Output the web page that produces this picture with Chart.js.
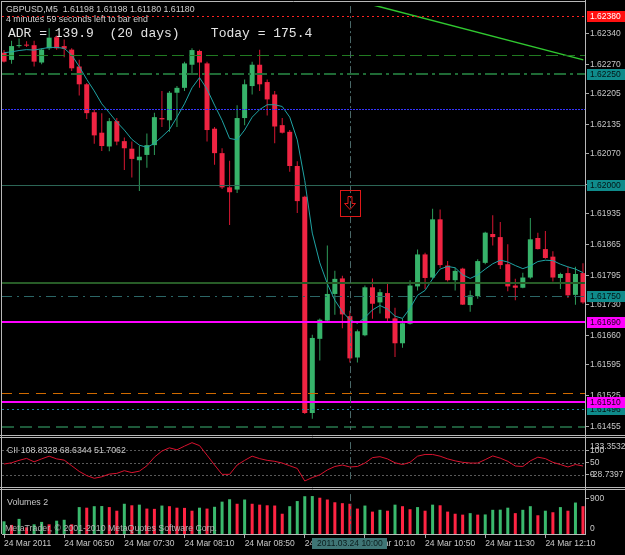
<!DOCTYPE html>
<html>
<head>
<meta charset="utf-8">
<script src="https://cdn.jsdelivr.net/npm/chart.js@4.4.0/dist/chart.umd.min.js"></script>
<style>
  html, body { margin: 0; padding: 0; background: #000; }
  #wrap { position: relative; width: 625px; height: 555px; background: #000; overflow: hidden; }
  #wrap canvas { position: absolute; left: 0; }
</style>
</head>
<body>
<div id="wrap">
  <canvas id="priceChart" width="625" height="436" style="top:0"></canvas>
  <canvas id="cciChart" width="625" height="52" style="top:436px"></canvas>
  <canvas id="volumeChart" width="625" height="67" style="top:488px"></canvas>
</div>
<script>
// GBPUSD M5, 78 bars from 06:10 to 12:35
const openPrices = [
  1.62297, 1.62281, 1.62312, 1.62315, 1.62314, 1.62275, 1.62307, 1.62332, 1.62312, 1.62304,
  1.62266, 1.62226, 1.62163, 1.62117, 1.62086, 1.62143, 1.62098, 1.62081, 1.62055, 1.62067,
  1.62089, 1.62150, 1.62145, 1.62207, 1.62218, 1.62270, 1.62301, 1.62273, 1.62126, 1.62071,
  1.61994, 1.61989, 1.62150, 1.62222, 1.62270, 1.62231, 1.62203, 1.62134, 1.62119, 1.62042,
  1.61973, 1.61486, 1.61653, 1.61694, 1.61754, 1.61789, 1.61704, 1.61611, 1.61661, 1.61769,
  1.61735, 1.61756, 1.61699, 1.61643, 1.61687, 1.61771, 1.61843, 1.61791, 1.61922, 1.61818,
  1.61785, 1.61811, 1.61729, 1.61749, 1.61824, 1.61889, 1.61882, 1.61821, 1.61773, 1.61768,
  1.61791, 1.61880, 1.61855, 1.61838, 1.61790, 1.61801, 1.61752, 1.61801
];
const highPrices = [
  1.62303, 1.62324, 1.62329, 1.62323, 1.62324, 1.62307, 1.62352, 1.62336, 1.62327, 1.62307,
  1.62281, 1.62229, 1.62170, 1.62161, 1.62150, 1.62150, 1.62106, 1.62097, 1.62088, 1.62115,
  1.62162, 1.62211, 1.62211, 1.62222, 1.62277, 1.62307, 1.62304, 1.62277, 1.62130, 1.62082,
  1.62054, 1.62179, 1.62237, 1.62277, 1.62304, 1.62237, 1.62211, 1.62150, 1.62123, 1.62053,
  1.61975, 1.61662, 1.61699, 1.61863, 1.61806, 1.61795, 1.61716, 1.61674, 1.61773, 1.61789,
  1.61765, 1.61779, 1.61723, 1.61699, 1.61785, 1.61854, 1.61847, 1.61946, 1.61944, 1.61828,
  1.61813, 1.61813, 1.61762, 1.61832, 1.61894, 1.61931, 1.61916, 1.61866, 1.61788, 1.61802,
  1.61925, 1.61892, 1.61896, 1.61850, 1.61802, 1.61815, 1.61815, 1.61823
];
const lowPrices = [
  1.62275, 1.62272, 1.62308, 1.62310, 1.62266, 1.62271, 1.62303, 1.62304, 1.62287, 1.62256,
  1.62201, 1.62148, 1.62092, 1.62076, 1.62075, 1.62089, 1.62033, 1.62016, 1.61986, 1.62038,
  1.62067, 1.62130, 1.62119, 1.62130, 1.62211, 1.62251, 1.62218, 1.62097, 1.62045, 1.61990,
  1.61909, 1.61981, 1.62134, 1.62203, 1.62211, 1.62156, 1.62093, 1.62115, 1.62029, 1.61936,
  1.61484, 1.61473, 1.61604, 1.61692, 1.61707, 1.61677, 1.61600, 1.61600, 1.61659, 1.61698,
  1.61710, 1.61692, 1.61612, 1.61633, 1.61685, 1.61762, 1.61765, 1.61788, 1.61813, 1.61782,
  1.61762, 1.61729, 1.61714, 1.61743, 1.61821, 1.61863, 1.61810, 1.61760, 1.61740, 1.61767,
  1.61788, 1.61854, 1.61833, 1.61782, 1.61765, 1.61745, 1.61730, 1.61732
];
const closePrices = [
  1.62277, 1.62312, 1.62314, 1.62313, 1.62277, 1.62304, 1.62331, 1.62307, 1.62306, 1.62262,
  1.62226, 1.62161, 1.62111, 1.62087, 1.62143, 1.62097, 1.62082, 1.62058, 1.62063, 1.62089,
  1.62152, 1.62147, 1.62207, 1.62218, 1.62273, 1.62303, 1.62275, 1.62123, 1.62071, 1.61994,
  1.61983, 1.62150, 1.62226, 1.62270, 1.62226, 1.62192, 1.62131, 1.62117, 1.62042, 1.61963,
  1.61486, 1.61655, 1.61696, 1.61754, 1.61788, 1.61708, 1.61609, 1.61670, 1.61769, 1.61732,
  1.61758, 1.61699, 1.61643, 1.61688, 1.61773, 1.61843, 1.61790, 1.61922, 1.61819, 1.61785,
  1.61806, 1.61730, 1.61751, 1.61828, 1.61892, 1.61882, 1.61819, 1.61771, 1.61768, 1.61791,
  1.61877, 1.61855, 1.61835, 1.61791, 1.61799, 1.61751, 1.61799, 1.61735
];
const maValues = [
  1.62297, 1.62299, 1.62302, 1.62304, 1.62303, 1.62306, 1.62309, 1.62309, 1.62307, 1.62292,
  1.62266, 1.62237, 1.62211, 1.62182, 1.62162, 1.62141, 1.62123, 1.62102, 1.62089, 1.62084,
  1.62093, 1.62108, 1.62124, 1.62152, 1.62182, 1.62218, 1.62241, 1.62215, 1.62179, 1.62145,
  1.62104, 1.62101, 1.62123, 1.62152, 1.62169, 1.62180, 1.62180, 1.62176, 1.62152, 1.62101,
  1.62009, 1.61891, 1.61824, 1.61777, 1.61740, 1.61714, 1.61696, 1.61688, 1.61701, 1.61718,
  1.61728, 1.61720, 1.61704, 1.61699, 1.61722, 1.61751, 1.61762, 1.61788, 1.61810, 1.61816,
  1.61813, 1.61797, 1.61789, 1.61797, 1.61810, 1.61822, 1.61830, 1.61826, 1.61818, 1.61811,
  1.61817, 1.61827, 1.61830, 1.61829, 1.61821, 1.61815, 1.61810, 1.61802
];
const cciValues = [
  44, 49, 59, 67, 53, 65, 76, 65, 60, 37,
  14, -3, -14, -8, 3, 6, 17, 9, 15, 37,
  72, 97, 110, 102, 117, 131, 119, 80, 40, 2,
  2, 40, 59, 76, 66, 59, 55, 48, 37, 26,
  -25, -11, 0, 20, 34, 40, 32, 34, 48, 70,
  74, 65, 49, 42, 51, 76, 83, 83, 76, 65,
  57, 51, 48, 48, 62, 77, 68, 55, 36, 34,
  57, 72, 66, 51, 42, 32, 42, 36
];
const volumeValues = [
  323, 231, 385, 169, 246, 308, 246, 339, 362, 246,
  685, 670, 708, 712, 685, 593, 770, 731, 747, 647,
  640, 724, 708, 670, 665, 593, 670, 647, 693, 824,
  885, 770, 878, 770, 747, 731, 725, 516, 708, 839,
  962, 966, 924, 878, 808, 785, 770, 647, 724, 570,
  616, 593, 747, 708, 631, 685, 593, 747, 731, 570,
  516, 493, 531, 493, 498, 616, 620, 670, 531, 616,
  708, 477, 593, 554, 685, 593, 801, 708
];

const timeLabels = ['24 Mar 2011', '24 Mar 06:50', '24 Mar 07:30', '24 Mar 08:10', '24 Mar 08:50',
  '24 Mar 09:30', '24 Mar 10:10', '24 Mar 10:50', '24 Mar 11:30', '24 Mar 12:10'];
const timeLabelBars = [0, 8, 16, 24, 32, 40, 48, 56, 64, 72];

const priceRange = [1.61448, 1.62402];
const priceTicks = [1.62340, 1.62270, 1.62205, 1.62135, 1.62070, 1.62000, 1.61935,
  1.61865, 1.61795, 1.61730, 1.61660, 1.61595, 1.61525, 1.61455];
const cciRange = [-28.7397, 133.3532];
const cciTicks = [100, 50, 0];
const volumeRange = [0, 1016];
const volumeTicks = [900];

// horizontal lines drawn on the price pane
const levelPrices = [1.62380, 1.62292, 1.62250, 1.62171, 1.62000, 1.61778,
  1.61750, 1.61690, 1.61532, 1.61496, 1.61510, 1.61454];
const trendBars = [48.5, 77.05];
const trendPrices = [1.62407, 1.62281];
const arrowBar = 46;
const arrowPrice = 1.61958;
const crosshairBar = 46;
const crosshairTime = '2011.03.24 10:00';

const symbolLine = 'GBPUSD,M5  1.61198 1.61198 1.61180 1.61180';
const timerLine = '4 minutes 59 seconds left to bar end';
const adrLine = 'ADR = 139.9  (20 days)    Today = 175.4';
const cciLegend = 'CII 108.8328 68.6344 51.7062';
const volumeLegend = 'Volumes 2';
const copyrightLine = 'MetaTrader, \u00a9 2001-2010 MetaQuotes Software Corp.';

// styles for the level lines, same order as levelPrices
const teal = '#0f8b8b';
const levelStyles = [
  { color: '#ff2020', width: 1, dash: [2, 3], box: '#ff1010', text: '#ffffff' },
  { color: '#217a21', width: 1, dash: [12, 5] },
  { color: '#1f6a35', width: 2, dash: [12, 4, 3, 4], box: teal, text: '#041414' },
  { color: '#3434ff', width: 1, dash: [2, 1] },
  { color: '#2c6656', width: 1, dash: [], box: teal, text: '#041414' },
  { color: '#275c27', width: 2, dash: [] },
  { color: '#2b6666', width: 1, dash: [10, 5, 2, 5], box: teal, text: '#041414' },
  { color: '#ff00ff', width: 2, dash: [], box: '#ff00ff', text: '#1a001a' },
  { color: '#d06a00', width: 1, dash: [10, 7] },
  { color: '#2080a0', width: 1, dash: [2, 3], box: teal, text: '#041414' },
  { color: '#ff00ff', width: 2, dash: [], box: '#ff00ff', text: '#1a001a' },
  { color: '#1e5a3a', width: 2, dash: [12, 6] }
];

const X_MIN = -0.27, X_MAX = 77.27;
const FRAME = '#b8b8b8';
const AXIS_TEXT = '#c8c8c8';
const SMALL_FONT = '8.5px "Liberation Sans", Arial, sans-serif';
const LABEL_FONT = '8.8px "Liberation Sans", Arial, sans-serif';

Chart.defaults.font.family = '"Liberation Sans", Arial, sans-serif';

const bars = openPrices.map((_, i) => i);
const bull = bars.map(i => closePrices[i] >= openPrices[i]);

function hLine(ctx, y, x1, x2) {
  ctx.beginPath(); ctx.moveTo(x1, y); ctx.lineTo(x2, y); ctx.stroke();
}
function vLine(ctx, x, y1, y2) {
  ctx.beginPath(); ctx.moveTo(x, y1); ctx.lineTo(x, y2); ctx.stroke();
}

function drawCrosshair(chart) {
  const { ctx, chartArea: a, scales: { x } } = chart;
  const px = Math.round(x.getPixelForValue(crosshairBar)) + 0.5;
  ctx.save();
  ctx.strokeStyle = '#4a6868';
  ctx.lineWidth = 1;
  ctx.setLineDash([7, 3, 2, 3]);
  vLine(ctx, px, a.top, a.bottom);
  ctx.restore();
}

function rightAxis(range, ticks, fmt) {
  return {
    position: 'right',
    min: range[0],
    max: range[1],
    beginAtZero: false,
    afterFit: s => { s.width = 40; },
    afterBuildTicks: s => { s.ticks = ticks.map(v => ({ value: v })); },
    ticks: { color: AXIS_TEXT, font: { size: 8.5 }, padding: 1, autoSkip: false, callback: fmt },
    grid: { drawOnChartArea: false, drawTicks: true, tickLength: 4, color: '#a8a8a8' },
    border: { display: true, color: FRAME, width: 1 }
  };
}

const hiddenX = { type: 'linear', min: X_MIN, max: X_MAX, offset: false, display: false };
const baseOptions = {
  responsive: false,
  animation: false,
  devicePixelRatio: 1,
  events: [],
  plugins: { legend: { display: false }, tooltip: { enabled: false } }
};

// ---------- price pane ----------
const priceOverlay = {
  id: 'priceOverlay',
  beforeDatasetsDraw(chart) {
    const ctx = chart.ctx;
    ctx.save();
    ctx.font = '13px "Liberation Mono", "DejaVu Sans Mono", monospace';
    ctx.fillStyle = '#e4e4e4';
    ctx.textBaseline = 'middle';
    ctx.fillText(adrLine, 8, 34);
    ctx.restore();
  },
  afterDatasetsDraw(chart) {
    const { ctx, chartArea: a, scales: { x, y } } = chart;
    ctx.save();
    ctx.beginPath();
    ctx.rect(a.left, a.top, a.right - a.left, a.bottom - a.top);
    ctx.clip();
    levelPrices.forEach((p, i) => {
      const s = levelStyles[i];
      const py = Math.round(y.getPixelForValue(p)) + (s.width % 2 ? 0.5 : 0);
      ctx.strokeStyle = s.color;
      ctx.lineWidth = s.width;
      ctx.setLineDash(s.dash);
      hLine(ctx, py, a.left, a.right);
    });
    ctx.restore();

    drawCrosshair(chart);

    // signal arrow
    const ax = Math.round(x.getPixelForValue(arrowBar));
    const ay = Math.round(y.getPixelForValue(arrowPrice));
    ctx.save();
    ctx.strokeStyle = '#e01818';
    ctx.lineWidth = 1;
    ctx.strokeRect(ax - 9.5, ay - 12.5, 20, 26);
    ctx.beginPath();
    ctx.moveTo(ax - 2, ay - 6.5);
    ctx.lineTo(ax + 2, ay - 6.5);
    ctx.lineTo(ax + 2, ay + 0.5);
    ctx.lineTo(ax + 5.5, ay + 0.5);
    ctx.lineTo(ax, ay + 6.5);
    ctx.lineTo(ax - 5.5, ay + 0.5);
    ctx.lineTo(ax - 2, ay + 0.5);
    ctx.closePath();
    ctx.stroke();
    ctx.restore();

    // header text, with a black plate under the first line
    ctx.save();
    ctx.font = LABEL_FONT;
    ctx.textBaseline = 'middle';
    const w = ctx.measureText(symbolLine).width;
    ctx.fillStyle = '#000';
    ctx.fillRect(3, 4, w + 6, 11);
    ctx.fillStyle = '#d0d0d0';
    ctx.fillText(symbolLine, 6, 10);
    ctx.fillText(timerLine, 6, 20);
    ctx.restore();

    // price tags on the axis
    ctx.save();
    ctx.font = SMALL_FONT;
    ctx.textBaseline = 'middle';
    levelPrices.forEach((p, i) => {
      const s = levelStyles[i];
      if (!s.box) return;
      const py = Math.round(y.getPixelForValue(p));
      ctx.fillStyle = s.box;
      ctx.fillRect(a.right + 2, py - 5, 38, 11);
      ctx.fillStyle = s.text;
      ctx.fillText(p.toFixed(5), a.right + 5, py + 0.5);
    });
    ctx.restore();

    // pane frame
    ctx.save();
    ctx.strokeStyle = FRAME;
    ctx.lineWidth = 1;
    vLine(ctx, 1.5, 1, chart.height);
    hLine(ctx, 1.5, 1, a.right + 1);
    hLine(ctx, chart.height - 0.5, 0, chart.width);
    vLine(ctx, a.right + 0.5, 0, chart.height);
    ctx.restore();
  }
};

new Chart(document.getElementById('priceChart'), {
  type: 'bar',
  data: {
    datasets: [
      {
        type: 'line',
        data: trendBars.map((b, i) => ({ x: b, y: trendPrices[i] })),
        borderColor: '#30c830', borderWidth: 1.5, pointRadius: 0, order: 0
      },
      {
        type: 'line',
        data: maValues.map((v, i) => ({ x: i, y: v })),
        borderColor: '#1fa3a3', borderWidth: 1, pointRadius: 0, order: 1
      },
      {
        data: bars.map(i => ({ x: i, y: [openPrices[i], closePrices[i]] })),
        backgroundColor: bull.map(b => b ? '#37b36a' : '#ef2442'),
        borderWidth: 0, maxBarThickness: 5, minBarLength: 1, grouped: false, order: 2
      },
      {
        data: bars.map(i => ({ x: i, y: [lowPrices[i], highPrices[i]] })),
        backgroundColor: bull.map(b => b ? '#2e9c5a' : '#d81632'),
        borderWidth: 0, maxBarThickness: 1, grouped: false, order: 3
      }
    ]
  },
  options: Object.assign({}, baseOptions, {
    layout: { padding: { left: 2, top: 2, right: 0, bottom: 2 } },
    scales: {
      x: hiddenX,
      y: rightAxis(priceRange, priceTicks, v => v.toFixed(5))
    }
  }),
  plugins: [priceOverlay]
});

// ---------- CCI pane ----------
const cciOverlay = {
  id: 'cciOverlay',
  beforeDatasetsDraw(chart) {
    const { ctx, chartArea: a, scales: { y } } = chart;
    ctx.save();
    ctx.strokeStyle = '#5a5a5a';
    ctx.lineWidth = 1;
    ctx.setLineDash([2, 2]);
    cciTicks.forEach(v => hLine(ctx, Math.round(y.getPixelForValue(v)) + 0.5, a.left, a.right));
    ctx.restore();
  },
  afterDatasetsDraw(chart) {
    const { ctx, chartArea: a, scales: { y } } = chart;
    drawCrosshair(chart);
    ctx.save();
    ctx.font = LABEL_FONT;
    ctx.textBaseline = 'middle';
    ctx.fillStyle = '#c8c8c8';
    ctx.fillText(cciLegend, 7, a.top + 8);
    ctx.font = SMALL_FONT;
    ctx.fillStyle = AXIS_TEXT;
    ctx.fillText(y.max.toFixed(4), a.right + 5, a.top + 5);
    ctx.fillText(y.min.toFixed(4), a.right + 5, a.bottom - 7);
    ctx.strokeStyle = FRAME;
    ctx.lineWidth = 1;
    hLine(ctx, 1.5, 0, chart.width);
    hLine(ctx, chart.height - 0.5, 0, chart.width);
    vLine(ctx, 1.5, 0, chart.height);
    vLine(ctx, a.right + 0.5, 0, chart.height);
    ctx.restore();
  }
};

new Chart(document.getElementById('cciChart'), {
  type: 'line',
  data: {
    datasets: [{
      data: cciValues.map((v, i) => ({ x: i, y: v })),
      borderColor: '#d8122e', borderWidth: 1, pointRadius: 0
    }]
  },
  options: Object.assign({}, baseOptions, {
    layout: { padding: { left: 2, top: 3, right: 0, bottom: 1 } },
    scales: {
      x: hiddenX,
      y: rightAxis(cciRange, cciTicks, v => String(v))
    }
  }),
  plugins: [cciOverlay]
});

// ---------- volume pane ----------
const volumeColors = volumeValues.map((v, i) => (i === 0 || v > volumeValues[i - 1]) ? '#3ab96d' : '#ff2443');

const volumeOverlay = {
  id: 'volumeOverlay',
  afterDatasetsDraw(chart) {
    const { ctx, chartArea: a, scales: { y } } = chart;
    drawCrosshair(chart);
    ctx.save();
    ctx.font = LABEL_FONT;
    ctx.textBaseline = 'middle';
    ctx.fillStyle = '#c8c8c8';
    ctx.fillText(volumeLegend, 7, a.top + 8);
    ctx.fillStyle = '#b4b4b4';
    ctx.fillText(copyrightLine, 5, a.bottom - 5);
    ctx.font = SMALL_FONT;
    ctx.fillStyle = AXIS_TEXT;
    ctx.fillText(String(y.min), a.right + 5, a.bottom - 5);
    ctx.strokeStyle = FRAME;
    ctx.lineWidth = 1;
    hLine(ctx, 1.5, 0, chart.width);
    vLine(ctx, 1.5, 0, a.bottom);
    vLine(ctx, a.right + 0.5, 0, a.bottom);
    ctx.restore();
  },
  afterDraw(chart) {
    const { ctx, chartArea: a, scales: { x } } = chart;
    const px = x.getPixelForValue(crosshairBar);
    ctx.save();
    ctx.font = SMALL_FONT;
    const w = Math.round(ctx.measureText(crosshairTime).width + 9);
    ctx.fillStyle = '#3f7575';
    ctx.fillRect(Math.round(px - w / 2), a.bottom + 4, w, 11);
    ctx.fillStyle = '#0a1c1c';
    ctx.textAlign = 'center';
    ctx.textBaseline = 'middle';
    ctx.fillText(crosshairTime, px, a.bottom + 10);
    ctx.restore();
  }
};

new Chart(document.getElementById('volumeChart'), {
  type: 'bar',
  data: {
    datasets: [{
      data: volumeValues.map((v, i) => ({ x: i, y: v })),
      backgroundColor: volumeColors,
      borderWidth: 0, maxBarThickness: 3, grouped: false
    }]
  },
  options: Object.assign({}, baseOptions, {
    layout: { padding: { left: 2, top: 2, right: 0, bottom: 0 } },
    scales: {
      x: {
        type: 'linear', min: X_MIN, max: X_MAX, offset: false,
        afterFit: s => { s.height = 21; },
        afterBuildTicks: s => { s.ticks = timeLabelBars.map(v => ({ value: v })); },
        ticks: {
          color: AXIS_TEXT, font: { size: 8.5 }, padding: 1, align: 'start',
          autoSkip: false, maxRotation: 0, minRotation: 0,
          callback: (v, i) => timeLabels[i]
        },
        grid: { drawOnChartArea: false, drawTicks: true, tickLength: 4, color: '#a8a8a8', offset: false },
        border: { display: true, color: FRAME, width: 1 }
      },
      y: rightAxis(volumeRange, volumeTicks, v => String(v))
    }
  }),
  plugins: [volumeOverlay]
});
</script>
</body>
</html>
